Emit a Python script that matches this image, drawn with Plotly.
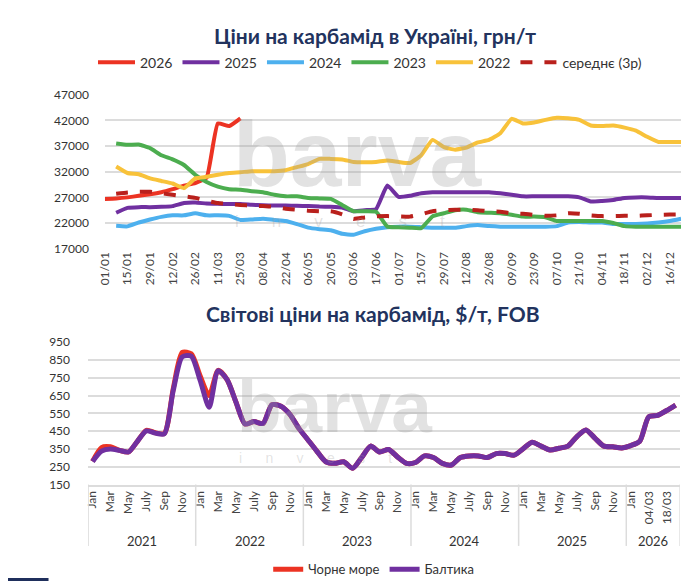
import plotly.graph_objects as go

# ---------------- Top chart data (weekly, grn/t) ----------------
week_ticks = ["01/01", "15/01", "29/01", "12/02", "26/02", "11/03", "25/03", "08/04", "22/04",
              "06/05", "20/05", "03/06", "17/06", "01/07", "15/07", "29/07", "12/08", "26/08",
              "09/09", "23/09", "07/10", "21/10", "04/11", "18/11", "02/12", "16/12"]
N_WEEKS = 52

y2026 = [26700, 26800, 27000, 27300, 27600, 28000, 28600, 29300, 29800, 30800, 41400, 40900, 42400]
y2025 = [None, 24000, 24950, 25100, 25100, 25150, 25300, 25900, 26000, 25800, 25750, 25700, 25700,
         25550, 25450, 25400, 25400, 25350, 25300, 25200, 25150, 25000, 24300, 24500, 24700, 29300,
         27100, 27300, 27800, 28000, 28000, 28000, 28000, 28000, 28000, 27800, 27500, 27200, 27200,
         27200, 27200, 27200, 27000, 26200, 26300, 26500, 26900, 27000, 27000, 26900, 26900, 26900]
y2024 = [None, 21450, 21350, 22100, 22700, 23200, 23500, 23500, 23900, 23500, 23500, 23400, 22600,
         22700, 22850, 22600, 22400, 21800, 21100, 20800, 20600, 19900, 19700, 20400, 20900, 21200,
         21300, 21300, 21200, 21100, 21100, 21100, 21400, 21600, 21400, 21300, 21300, 21300, 21300,
         21300, 21400, 22100, 22200, 22100, 22100, 21800, 21800, 21800, 21900, 22100, 22400, 22850]
y2023 = [None, 37500, 37250, 37300, 36600, 35200, 34400, 33300, 31400, 30000, 29100, 28600, 28500,
         28200, 28000, 27500, 27200, 27200, 26900, 26800, 26700, 25500, 24300, 24300, 24200, 21300,
         21200, 21100, 21000, 23300, 23900, 24500, 24600, 24100, 24000, 23900, 23600, 23250, 23250,
         23100, 22400, 22400, 22400, 22400, 22400, 22000, 21400, 21300, 21300, 21300, 21300, 21300]
y2022 = [None, 33000, 31750, 31500, 30700, 30200, 29700, 28800, 30700, 31000, 31400, 31750, 31900,
         32100, 32100, 32100, 32300, 32900, 33500, 34500, 34500, 34400, 33900, 33850, 33900, 34200,
         33900, 33700, 35200, 38200, 36800, 36300, 36700, 37700, 38200, 39500, 42300, 41400, 41600,
         42100, 42500, 42400, 42100, 41000, 40900, 41000, 40600, 40000, 38800, 37800, 37800, 37800]
y_avg = [None, 27700, 27950, 28100, 28100, 27800, 27500, 27200, 26900, 26350, 25900, 25700, 25500,
         25400, 25300, 25150, 24800, 24600, 24400, 24300, 24300, 23700, 22800, 23100, 23300, 23350,
         23300, 23250, 23700, 24300, 24500, 24600, 24600, 24500, 24300, 24200, 23900, 23800, 23600,
         23400, 23500, 23900, 23800, 23500, 23350, 23350, 23400, 23400, 23500, 23600, 23650, 23700]

top_series = [
    ("2026", y2026, "#ec3323", "solid"),
    ("2025", y2025, "#7030a0", "solid"),
    ("2024", y2024, "#4db0ee", "solid"),
    ("2023", y2023, "#4cad4f", "solid"),
    ("2022", y2022, "#f8c23a", "solid"),
    ("середнє (3р)", y_avg, "#b9201c", "dash"),
]

# ---------------- Bottom chart data (monthly / weekly, $/t FOB) ----------------
years = ["2021", "2022", "2023", "2024", "2025", "2026"]
months = ["Jan", "Feb", "Mar", "Apr", "May", "June", "July", "Aug", "Sep", "Oct", "Nov", "Dec"]
periods_2026 = ["Jan", "Feb", "04/03", "11/03", "18/03", "25/03"]

baltic = [280, 338, 350, 342, 333, 393, 451, 439, 435, 680, 868, 872,
          735, 585, 790, 740, 612, 490, 504, 493, 599, 590, 545, 466,
          402, 338, 278, 269, 278, 241, 302, 366, 333, 347, 305, 269,
          274, 311, 302, 269, 260, 302, 311, 311, 302, 324, 324, 315,
          351, 388, 366, 344, 354, 366, 420, 457, 411, 366, 362, 356,
          369, 393, 530, 539, 566, 597]
black_sea = [280, 358, 362, 342, 333, 393, 455, 441, 437, 690, 893, 885,
             760, 650, 792, 740, 612, 490, 504, 493, 599, 590, 545, 466,
             402, 338, 278, 269, 278, 241, 302, 366, 333, 347, 305, 269,
             274, 311, 302, 269, 260, 302, 311, 311, 302, 324, 324, 315,
             351, 388, 366, 344, 354, 366, 420, 457, 411, 366, 362, 356,
             369, 393, 530, 539, 566, 597]

# build category structure
cat_year, cat_label = [], []
for yr in years:
    labs = periods_2026 if yr == "2026" else months
    for lb in labs:
        cat_year.append(yr)
        cat_label.append(lb)
idx = list(range(len(cat_label)))

tick_idx, tick_txt = [], []
groups = []
for yr in years:
    members = [i for i in idx if cat_year[i] == yr]
    groups.append((yr, members[0], members[-1]))
    for k, i in enumerate(members):
        if k % 2 == 0:
            tick_idx.append(i)
            tick_txt.append(cat_label[i])

W, H = 689, 588
def py(px):  # pixel from top -> paper y
    return 1 - px / H
def pxx(px):
    return px / W

TITLE_COL = "#22335e"
GRID = "#dcdcdc"
FONT = "Lato, 'Open Sans', sans-serif"
WM = "rgba(160,160,160,0.3)"
NB = "\u00a0"
invest_txt = (NB * 7).join("invest")

fig = go.Figure()

for name, vals, col, dash in top_series:
    fig.add_trace(go.Scatter(
        x=list(range(len(vals))), y=vals, name=name, mode="lines",
        line=dict(color=col, width=4, dash=dash, shape="spline", smoothing=0.4),
        connectgaps=False, xaxis="x", yaxis="y", legend="legend",
    ))

fig.add_trace(go.Scatter(x=idx, y=black_sea, name="Чорне море", mode="lines",
                         line=dict(color="#ec3323", width=5, shape="spline", smoothing=0.7),
                         xaxis="x2", yaxis="y2", legend="legend2"))
fig.add_trace(go.Scatter(x=idx, y=baltic, name="Балтика", mode="lines",
                         line=dict(color="#7030a0", width=5, shape="spline", smoothing=0.7),
                         xaxis="x2", yaxis="y2", legend="legend2"))

top_ticks = list(range(0, N_WEEKS, 2))[:len(week_ticks)]

fig.update_layout(
    width=W, height=H, margin=dict(l=0, r=0, t=0, b=0),
    paper_bgcolor="white", plot_bgcolor="rgba(0,0,0,0)",
    font=dict(family=FONT, size=12, color="#333333"),
    xaxis=dict(domain=[pxx(98), pxx(681)], range=[0, N_WEEKS - 1],
               tickvals=top_ticks, ticktext=week_ticks, tickangle=-90,
               showgrid=False, zeroline=False, showline=False, ticks="",
               tickfont=dict(size=12, color="#444"), anchor="y"),
    yaxis=dict(domain=[py(247), py(89)], range=[17000, 47000], dtick=5000,
               tick0=17000, tickformat="d", showgrid=True, gridcolor=GRID, gridwidth=1.5,
               zeroline=False, showline=False, ticks="", tickfont=dict(size=12, color="#333"),
               anchor="x", ticklabelstandoff=15),
    xaxis2=dict(domain=[pxx(81), pxx(680)], range=[-0.5, len(idx) - 0.5],
                tickvals=tick_idx, ticktext=tick_txt, tickangle=-90,
                showgrid=False, zeroline=False, showline=True, linecolor=GRID, linewidth=1.5,
                ticks="", tickfont=dict(size=12, color="#444"), anchor="y2"),
    yaxis2=dict(domain=[py(489), py(343)], range=[150, 950], dtick=100, tick0=150,
                showgrid=True, gridcolor=GRID, gridwidth=1.5, zeroline=False, showline=False,
                ticks="", tickfont=dict(size=12, color="#333"), anchor="x2", ticklabelstandoff=17),
    legend=dict(orientation="h", x=pxx(86), y=py(56), xanchor="left", yanchor="middle",
                font=dict(size=14, color="#333"), itemwidth=37,
                bgcolor="rgba(0,0,0,0)", tracegroupgap=0),
    legend2=dict(orientation="h", x=pxx(370), y=py(576), xanchor="center", yanchor="middle",
                 font=dict(size=13, color="#333"), itemwidth=30, bgcolor="rgba(0,0,0,0)"),
    showlegend=True,
)

annotations = [
    dict(text="<b>Ціни на карбамід в Україні, грн/т</b>", x=pxx(371), y=py(28),
         xref="paper", yref="paper", showarrow=False, xanchor="center", yanchor="middle",
         font=dict(size=21, color=TITLE_COL, family=FONT)),
    dict(text="<b>Світові ціни на карбамід, $/т, FOB</b>", x=pxx(369), y=py(314),
         xref="paper", yref="paper", showarrow=False, xanchor="center", yanchor="middle",
         font=dict(size=21, color=TITLE_COL, family=FONT)),
    # faint watermarks
    dict(text="<b>barva</b>", x=pxx(227), y=py(204), xref="paper", yref="paper", showarrow=False,
         font=dict(size=93, color=WM, family="Liberation Sans"),
         xanchor="left", yanchor="bottom", borderpad=0),
    dict(text=invest_txt, x=pxx(229), y=py(208), xref="paper", yref="paper", showarrow=False,
         font=dict(size=17, color=WM, family="Liberation Sans"),
         xanchor="left", yanchor="top", borderpad=0),
    dict(text="<b>barva</b>", x=pxx(231), y=py(452), xref="paper", yref="paper", showarrow=False,
         font=dict(size=73, color=WM, family="Liberation Sans"),
         xanchor="left", yanchor="bottom", borderpad=0),
    dict(text=(NB * 6).join("invest"), x=pxx(233), y=py(453), xref="paper", yref="paper",
         showarrow=False, font=dict(size=14, color=WM, family="Liberation Sans"),
         xanchor="left", yanchor="top", borderpad=0),
]
shapes = []
for yr, a, b in groups:
    annotations.append(dict(text=yr, x=(a + b) / 2, y=py(547), xref="x2", yref="paper",
                            showarrow=False, xanchor="center", yanchor="middle",
                            font=dict(size=13, color="#333", family=FONT)))
    shapes.append(dict(type="line", x0=a - 0.5, x1=a - 0.5, xref="x2", y0=py(489), y1=py(552),
                       yref="paper", line=dict(color=GRID, width=1.5)))
shapes.append(dict(type="line", x0=len(idx) - 0.5, x1=len(idx) - 0.5, xref="x2", y0=py(489),
                   y1=py(552), yref="paper", line=dict(color=GRID, width=1.5)))
shapes.append(dict(type="rect", x0=0, x1=pxx(41), y0=0, y1=py(585), xref="paper", yref="paper",
                   fillcolor="#1f2f5c", line=dict(width=0)))

fig.update_layout(annotations=annotations, shapes=shapes)
fig.write_html("out.html")
